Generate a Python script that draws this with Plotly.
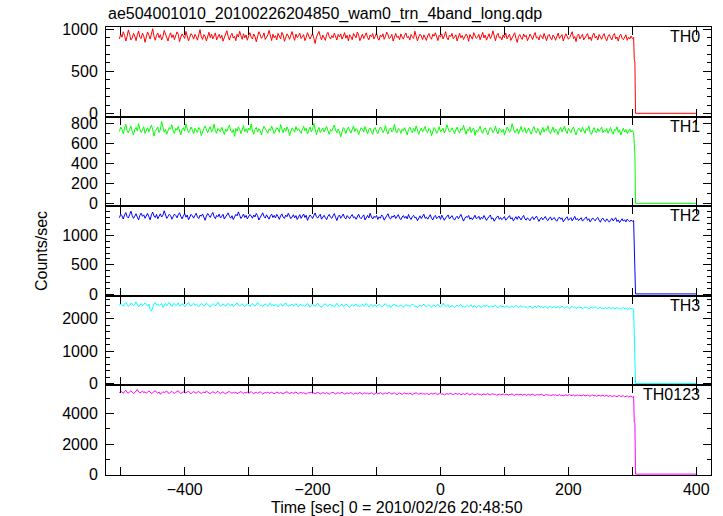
import numpy as np
import plotly.graph_objects as go
from plotly.subplots import make_subplots

# ---------------- data ----------------
title_text = "ae504001010_20100226204850_wam0_trn_4band_long.qdp"
x_title = "Time [sec] 0 = 2010/02/26 20:48:50"
y_title = "Counts/sec"

t_start = -502
t_step = 2
t_tail = [303, 304, 305, 400]

panel_names = ["TH0", "TH1", "TH2", "TH3", "TH0123"]
panel_colors = ["#ff0000", "#00ff00", "#0000ff", "#00ffff", "#ff00ff"]

th0 = [884, 941, 903, 967, 925, 858, 912, 989, 936, 871, 895, 948, 917, 862, 933, 976, 901, 888, 952, 919,
       843, 907, 964, 928, 881, 939, 1003, 914, 867, 925, 952, 896, 934, 870, 909, 983, 947, 890, 858, 921,
       955, 899, 931, 874, 918, 966, 937, 852, 905, 942, 915, 889, 971, 928, 861, 903, 946, 924, 880, 937,
       912, 868, 951, 993, 906, 877, 933, 914, 859, 926, 962, 898, 941, 883, 917, 954, 872, 909, 938, 891,
       927, 856, 902, 945, 980, 911, 869, 924, 950, 893, 915, 862, 938, 905, 973, 921, 878, 944, 896, 930,
       867, 918, 957, 903, 882, 942, 911, 849, 925, 968, 936, 890, 913, 954, 876, 906, 929, 985, 901, 864,
       939, 897, 922, 871, 948, 916, 884, 960, 931, 855, 904, 943, 919, 879, 927, 970, 908, 866, 941, 899,
       920, 951, 887, 910, 934, 863, 898, 957, 925, 881, 912, 946, 893, 829, 906, 939, 972, 915, 873, 928,
       904, 866, 937, 961, 911, 883, 921, 898, 952, 917, 870, 935, 906, 943, 880, 914, 958, 892, 926, 861,
       933, 909, 874, 947, 918, 896, 965, 928, 862, 905, 941, 887, 919, 955, 898, 871, 930, 910, 946, 883,
       915, 952, 890, 868, 929, 906, 944, 878, 912, 963, 931, 885, 903, 937, 857, 921, 948, 899, 916, 874,
       942, 905, 881, 926, 953, 897, 913, 869, 935, 910, 888, 974, 922, 860, 907, 940, 918, 875, 931, 896,
       866, 921, 947, 902, 879, 938, 915, 956, 891, 864, 925, 904, 942, 883, 917, 969, 900, 872, 929, 911,
       948, 887, 906, 932, 859, 914, 950, 897, 923, 876, 908, 941, 918, 855, 936, 902, 880, 957, 913, 890,
       904, 937, 873, 919, 961, 895, 928, 868, 910, 944, 887, 915, 979, 903, 862, 926, 949, 894, 907, 871,
       930, 898, 952, 884, 912, 938, 865, 903, 921, 956, 889, 842, 914, 935, 899, 877, 942, 908, 926, 863,
       897, 940, 912, 876, 925, 959, 893, 906, 870, 931, 917, 884, 948, 901, 862, 920, 937, 895, 873, 929,
       908, 867, 923, 951, 889, 911, 935, 858, 902, 944, 916, 879, 897, 930, 968, 887, 912, 851, 924, 941,
       884, 909, 937, 872, 898, 921, 946, 880, 905, 864, 928, 951, 893, 915, 870, 936, 902, 878, 919, 946,
       889, 862, 913, 934, 896, 871, 925, 948, 883, 906, 857, 920, 939, 891, 874, 911, 932, 866, 903, 881,
       917, 888, 902]
th0_tail = [640, 610, 3, 3]

th1 = [717, 762, 739, 694, 751, 788, 726, 703, 745, 771, 718, 682, 737, 759, 724, 796, 741, 708, 733, 765,
       699, 728, 754, 715, 743, 781, 736, 672, 719, 748, 763, 707, 734, 817, 752, 711, 738, 690, 726, 757,
       741, 784, 722, 698, 747, 731, 768, 713, 685, 739, 756, 721, 794, 744, 706, 729, 762, 735, 695, 750,
       727, 709, 758, 736, 677, 719, 745, 773, 730, 704, 741, 766, 712, 738, 791, 724, 699, 748, 733, 714,
       760, 729, 688, 742, 717, 754, 781, 725, 707, 736, 669, 748, 722, 763, 740, 697, 731, 776, 718, 744,
       706, 751, 733, 794, 721, 690, 739, 758, 712, 745, 727, 682, 736, 769, 748, 715, 701, 743, 728, 772,
       738, 695, 723, 757, 741, 710, 786, 731, 704, 749, 719, 763, 735, 676, 725, 754, 739, 711, 767, 729,
       745, 716, 700, 738, 771, 726, 751, 693, 729, 762, 714, 740, 797, 720, 687, 733, 759, 708, 736, 751,
       712, 744, 768, 725, 690, 737, 719, 752, 781, 731, 705, 743, 716, 664, 729, 757, 742, 698, 734, 762,
       726, 701, 739, 773, 718, 747, 732, 686, 724, 755, 740, 711, 767, 729, 694, 738, 752, 716, 689, 743,
       758, 720, 697, 733, 764, 745, 707, 728, 776, 717, 692, 739, 754, 713, 731, 789, 724, 703, 746, 735,
       699, 741, 723, 756, 711, 684, 737, 762, 728, 705, 747, 719, 773, 734, 690, 726, 751, 714, 739, 768,
       721, 707, 749, 732, 676, 729, 758, 740, 698, 723, 766, 713, 737, 751, 703, 730, 785, 744, 711, 726,
       755, 728, 694, 736, 761, 719, 702, 748, 733, 778, 716, 689, 741, 725, 763, 707, 735, 751, 679, 730,
       712, 746, 769, 722, 699, 738, 754, 715, 685, 731, 757, 740, 708, 726, 772, 719, 694, 749, 736, 711,
       740, 681, 727, 762, 743, 710, 733, 796, 752, 704, 721, 745, 692, 737, 768, 715, 729, 756, 701, 724,
       753, 718, 692, 739, 766, 727, 705, 747, 723, 681, 735, 759, 712, 744, 728, 775, 716, 698, 731, 763,
       709, 742, 725, 687, 733, 758, 714, 736, 771, 721, 696, 749, 730, 707, 741, 764, 718, 683, 727, 752,
       734, 713, 760, 722, 699, 745, 730, 773, 711, 689, 737, 756, 724, 703, 748, 717, 739, 762, 706, 728,
       719, 747, 701, 733, 758, 714, 690, 741, 726, 765, 709, 735, 681, 722, 750, 713, 737, 698, 729, 744,
       712, 731, 706]
th1_tail = [505, 490, 2, 2]

th2 = [1302, 1361, 1334, 1279, 1347, 1388, 1320, 1296, 1355, 1412, 1338, 1290, 1327, 1369, 1311, 1264, 1342, 1379, 1325, 1350,
       1291, 1336, 1374, 1318, 1265, 1349, 1397, 1330, 1304, 1358, 1283, 1326, 1367, 1312, 1345, 1420, 1336, 1289, 1322, 1360,
       1337, 1275, 1318, 1363, 1341, 1299, 1352, 1386, 1322, 1281, 1334, 1370, 1310, 1347, 1266, 1321, 1358, 1333, 1294, 1340,
       1376, 1315, 1288, 1344, 1327, 1365, 1301, 1257, 1329, 1372, 1339, 1306, 1353, 1391, 1320, 1284, 1341, 1318, 1362, 1297,
       1325, 1359, 1278, 1311, 1348, 1383, 1326, 1293, 1335, 1269, 1314, 1357, 1332, 1400, 1341, 1287, 1319, 1364, 1305, 1339,
       1281, 1323, 1356, 1330, 1292, 1347, 1314, 1375, 1336, 1262, 1309, 1343, 1385, 1324, 1295, 1350, 1317, 1276, 1334, 1361,
       1304, 1340, 1297, 1358, 1321, 1273, 1332, 1366, 1310, 1289, 1345, 1318, 1378, 1326, 1284, 1313, 1352, 1299, 1337, 1270,
       1316, 1353, 1290, 1327, 1364, 1305, 1342, 1256, 1312, 1348, 1323, 1287, 1339, 1381, 1318, 1294, 1331, 1359, 1276, 1320,
       1342, 1301, 1268, 1325, 1356, 1310, 1289, 1334, 1371, 1307, 1252, 1318, 1346, 1292, 1329, 1363, 1303, 1280, 1337, 1315,
       1284, 1328, 1355, 1299, 1317, 1274, 1336, 1360, 1306, 1283, 1321, 1349, 1263, 1308, 1340, 1296, 1377, 1313, 1278, 1324,
       1303, 1339, 1271, 1316, 1292, 1348, 1320, 1259, 1307, 1335, 1368, 1298, 1279, 1326, 1310, 1345, 1287, 1314, 1353, 1295,
       1268, 1312, 1337, 1293, 1324, 1281, 1356, 1302, 1271, 1319, 1342, 1297, 1308, 1250, 1301, 1333, 1286, 1323, 1361, 1290,
       1311, 1276, 1327, 1352, 1294, 1262, 1318, 1340, 1284, 1305, 1331, 1273, 1345, 1300, 1257, 1296, 1322, 1348, 1281, 1309,
       1335, 1289, 1260, 1304, 1327, 1282, 1314, 1358, 1297, 1243, 1291, 1320, 1306, 1339, 1275, 1302, 1266, 1317, 1343, 1285,
       1296, 1326, 1270, 1309, 1283, 1338, 1301, 1255, 1293, 1319, 1347, 1277, 1298, 1241, 1288, 1314, 1330, 1274, 1305, 1268,
       1292, 1321, 1258, 1284, 1312, 1336, 1279, 1302, 1247, 1289, 1318, 1273, 1327, 1296, 1262, 1308, 1340, 1281, 1259, 1300,
       1276, 1249, 1293, 1318, 1267, 1301, 1328, 1283, 1239, 1280, 1306, 1265, 1297, 1322, 1271, 1251, 1294, 1313, 1262, 1287,
       1305, 1263, 1241, 1286, 1312, 1274, 1298, 1232, 1269, 1295, 1317, 1257, 1281, 1303, 1246, 1277, 1324, 1266, 1289, 1252,
       1279, 1301, 1243, 1268, 1292, 1315, 1256, 1284, 1230, 1261, 1297, 1273, 1248, 1286, 1306, 1259, 1224, 1275, 1294, 1253,
       1238, 1281, 1262, 1226, 1259, 1290, 1247, 1271, 1302, 1236, 1264, 1218, 1255, 1283, 1242, 1267, 1229, 1276, 1251, 1233,
       1262, 1240, 1255]
th2_tail = [850, 830, 3, 3]

th3 = [2397, 2468, 2421, 2380, 2452, 2496, 2433, 2371, 2410, 2475, 2446, 2392, 2438, 2513, 2425, 2367, 2417, 2459, 2403, 2440,
       2483, 2422, 2386, 2447, 2280, 2226, 2361, 2436, 2488, 2415, 2450, 2398, 2431, 2462, 2344, 2429, 2462, 2396, 2437, 2503,
       2418, 2375, 2444, 2466, 2401, 2427, 2481, 2388, 2413, 2458, 2436, 2364, 2405, 2449, 2493, 2420, 2382, 2431, 2471, 2409,
       2442, 2393, 2369, 2425, 2461, 2434, 2385, 2416, 2478, 2441, 2399, 2352, 2419, 2454, 2428, 2387, 2445, 2506, 2430, 2373,
       2411, 2457, 2402, 2378, 2436, 2469, 2413, 2390, 2448, 2364, 2407, 2439, 2482, 2420, 2381, 2426, 2455, 2397, 2359, 2418,
       2450, 2416, 2371, 2431, 2463, 2404, 2385, 2429, 2499, 2437, 2393, 2412, 2366, 2423, 2457, 2408, 2376, 2441, 2473, 2399,
       2427, 2384, 2446, 2401, 2357, 2415, 2452, 2420, 2377, 2438, 2486, 2410, 2369, 2424, 2402, 2447, 2381, 2414, 2460, 2395,
       2363, 2421, 2443, 2391, 2409, 2378, 2432, 2468, 2405, 2350, 2398, 2435, 2417, 2373, 2426, 2477, 2412, 2386, 2344, 2404,
       2430, 2458, 2396, 2371, 2419, 2445, 2383, 2406, 2362, 2427, 2471, 2400, 2379, 2414, 2439, 2368, 2397, 2452, 2408, 2376,
       2345, 2403, 2428, 2385, 2416, 2449, 2374, 2398, 2361, 2413, 2440, 2382, 2407, 2466, 2393, 2356, 2410, 2434, 2373, 2401,
       2425, 2367, 2392, 2437, 2404, 2351, 2390, 2421, 2462, 2399, 2372, 2411, 2343, 2386, 2418, 2444, 2381, 2405, 2360, 2395,
       2420, 2376, 2349, 2402, 2431, 2389, 2414, 2365, 2397, 2451, 2408, 2370, 2391, 2339, 2383, 2416, 2375, 2403, 2442, 2386,
       2358, 2399, 2423, 2378, 2346, 2394, 2415, 2371, 2406, 2436, 2380, 2353, 2392, 2474, 2410, 2367, 2389, 2421, 2348, 2385,
       2404, 2369, 2337, 2381, 2412, 2376, 2395, 2430, 2362, 2387, 2341, 2379, 2407, 2365, 2393, 2424, 2355, 2382, 2398, 2343,
       2377, 2409, 2360, 2335, 2384, 2401, 2366, 2419, 2380, 2348, 2371, 2396, 2356, 2389, 2413, 2362, 2333, 2378, 2400, 2352,
       2386, 2345, 2370, 2397, 2358, 2324, 2366, 2391, 2349, 2375, 2407, 2361, 2338, 2372, 2395, 2351, 2383, 2342, 2368, 2329,
       2360, 2389, 2341, 2318, 2365, 2382, 2336, 2357, 2399, 2347, 2370, 2327, 2353, 2379, 2339, 2312, 2359, 2384, 2333, 2350,
       2376, 2326, 2349, 2371, 2317, 2343, 2388, 2352, 2320, 2346, 2368, 2331, 2306, 2355, 2373, 2335, 2358, 2311, 2340, 2364,
       2324, 2350, 2301, 2337, 2362, 2329, 2345, 2296, 2333, 2357, 2316, 2342, 2369, 2321, 2294, 2338, 2355, 2310, 2331, 2289,
       2336, 2305, 2327, 2351, 2298, 2319, 2344, 2286, 2314, 2339, 2302, 2325, 2281, 2317, 2343, 2296, 2320, 2277, 2309, 2334,
       2292, 2315, 2288]
th3_tail = [1460, 1440, 5, 5]

th0123 = [5398, 5512, 5446, 5361, 5487, 5559, 5420, 5375, 5469, 5530, 5438, 5352, 5411, 5497, 5620, 5456, 5389, 5442, 5521, 5403,
          5467, 5373, 5425, 5508, 5451, 5338, 5416, 5483, 5541, 5432, 5369, 5450, 5292, 5380, 5473, 5409, 5437, 5515, 5396, 5358,
          5444, 5492, 5401, 5366, 5428, 5474, 5533, 5415, 5349, 5407, 5461, 5420, 5384, 5452, 5503, 5391, 5340, 5419, 5470, 5426,
          5372, 5435, 5486, 5404, 5357, 5413, 5448, 5391, 5525, 5431, 5376, 5342, 5409, 5465, 5420, 5371, 5437, 5498, 5402, 5355,
          5418, 5462, 5380, 5333, 5401, 5444, 5492, 5415, 5368, 5426, 5385, 5451, 5330, 5393, 5438, 5477, 5404, 5362, 5419, 5388,
          5445, 5372, 5410, 5483, 5397, 5346, 5388, 5432, 5365, 5412, 5467, 5394, 5322, 5378, 5421, 5391, 5450, 5360, 5401, 5436,
          5379, 5340, 5396, 5442, 5407, 5356, 5419, 5380, 5325, 5389, 5428, 5472, 5398, 5350, 5384, 5413, 5361, 5402, 5447, 5374,
          5331, 5392, 5421, 5367, 5408, 5349, 5311, 5378, 5415, 5385, 5440, 5357, 5396, 5337, 5372, 5423, 5390, 5318, 5364, 5406,
          5381, 5344, 5410, 5361, 5302, 5369, 5398, 5437, 5355, 5320, 5377, 5404, 5346, 5388, 5426, 5365, 5309, 5352, 5393, 5340,
          5376, 5411, 5348, 5295, 5359, 5390, 5333, 5372, 5416, 5351, 5304, 5368, 5397, 5338, 5379, 5320, 5361, 5402, 5344, 5286,
          5352, 5383, 5326, 5364, 5407, 5341, 5299, 5356, 5388, 5331, 5370, 5425, 5349, 5312, 5360, 5391, 5328, 5277, 5346, 5379,
          5337, 5295, 5358, 5386, 5322, 5350, 5309, 5371, 5334, 5268, 5329, 5362, 5397, 5340, 5301, 5348, 5375, 5316, 5343, 5290,
          5354, 5318, 5279, 5336, 5368, 5306, 5345, 5381, 5321, 5286, 5339, 5363, 5302, 5330, 5259, 5317, 5352, 5294, 5327, 5366,
          5309, 5275, 5331, 5357, 5298, 5320, 5346, 5269, 5312, 5340, 5283, 5326, 5375, 5304, 5262, 5315, 5342, 5290, 5251, 5308,
          5333, 5286, 5314, 5249, 5297, 5328, 5271, 5303, 5341, 5280, 5258, 5306, 5335, 5277, 5300, 5236, 5289, 5319, 5265, 5294,
          5320, 5261, 5284, 5311, 5245, 5276, 5305, 5327, 5268, 5232, 5287, 5312, 5255, 5279, 5301, 5243, 5270, 5296, 5224, 5263,
          5291, 5240, 5273, 5302, 5253, 5226, 5265, 5289, 5238, 5281, 5307, 5247, 5213, 5259, 5286, 5234, 5262, 5208, 5250, 5277,
          5236, 5264, 5203, 5248, 5279, 5221, 5245, 5193, 5239, 5266, 5219, 5251, 5284, 5210, 5232, 5258, 5186, 5227, 5253, 5205,
          5241, 5196, 5222, 5257, 5180, 5216, 5244, 5198, 5171, 5229, 5254, 5192, 5218, 5163, 5206, 5237, 5178, 5213, 5240, 5169,
          5199, 5228, 5157, 5190, 5219, 5146, 5184, 5211, 5162, 5137, 5193, 5222, 5150, 5176, 5204, 5133, 5168, 5197, 5121, 5159,
          5186, 5112, 5148]
th0123_tail = [3450, 3400, 10, 10]

series_values = [th0, th1, th2, th3, th0123]
series_tails = [th0_tail, th1_tail, th2_tail, th3_tail, th0123_tail]

x_range = [-523, 423]
x_tickvals = [-500, -400, -300, -200, -100, 0, 100, 200, 300, 400]
x_ticktext = ["", "\u2212400", "", "\u2212200", "", "0", "", "200", "", "400"]

y_ranges = [[-36, 1024], [-26, 866], [-29, 1497], [-52, 2700], [-47, 5887]]
y_tickvals = [[0, 500, 1000], [0, 200, 400, 600, 800], [0, 500, 1000], [0, 1000, 2000], [0, 2000, 4000]]
y_minor = [100, 100, 100, 200, 1000]

# ---------------- figure ----------------
W, H = 723, 516
ML, MR, MT, MB = 106, 12, 27, 41

fig = make_subplots(rows=5, cols=1, shared_xaxes=True, vertical_spacing=0)

for i, (vals, tail, col) in enumerate(zip(series_values, series_tails, panel_colors)):
    t = list(t_start + t_step * np.arange(len(vals))) + t_tail
    y = list(vals) + list(tail)
    fig.add_trace(go.Scatter(x=t, y=y, mode="lines", line=dict(color=col, width=1),
                             showlegend=False, hoverinfo="skip"), row=i + 1, col=1)

font_family = "Liberation Sans, Arial, Helvetica, sans-serif"

for i in range(5):
    r = i + 1
    fig.update_xaxes(range=x_range, tickmode="array", tickvals=x_tickvals, ticktext=x_ticktext,
                     ticks="inside", ticklen=8, tickwidth=1, tickcolor="black",
                     showline=True, linecolor="black", linewidth=1, mirror="ticks",
                     showgrid=False, zeroline=False, row=r, col=1)
    fig.update_yaxes(range=y_ranges[i], tickmode="array", tickvals=y_tickvals[i],
                     ticks="inside", ticklen=8, tickwidth=1, tickcolor="black",
                     minor=dict(dtick=y_minor[i], tick0=0, ticks="inside", ticklen=4, tickcolor="black"),
                     showline=True, linecolor="black", linewidth=1, mirror="ticks",
                     showgrid=False, zeroline=False, ticklabelstandoff=4, row=r, col=1)

fig.update_xaxes(showticklabels=True, row=5, col=1)

pw = W - ML - MR
ph = H - MT - MB

def px_x(x):
    return (x - ML) / pw

def px_y(y):
    return 1 - (y - MT) / ph

annotations = []
for i, name in enumerate(panel_names):
    top = 1 - i * 0.2
    annotations.append(dict(text=name, xref="paper", yref="paper", x=px_x(702), y=top,
                            xanchor="right", yanchor="top", yshift=1, showarrow=False,
                            font=dict(size=16, color="black", family=font_family)))

annotations.append(dict(text=title_text, xref="paper", yref="paper", x=px_x(106), y=px_y(14),
                        xanchor="left", yanchor="middle", showarrow=False,
                        font=dict(size=16, color="black", family=font_family)))
annotations.append(dict(text=x_title, xref="paper", yref="paper", x=px_x(397), y=px_y(507),
                        xanchor="center", yanchor="middle", showarrow=False,
                        font=dict(size=16, color="black", family=font_family)))
annotations.append(dict(text=y_title, xref="paper", yref="paper", x=px_x(41), y=px_y(251),
                        xanchor="center", yanchor="middle", textangle=-90, showarrow=False,
                        font=dict(size=16, color="black", family=font_family)))

fig.update_layout(width=W, height=H, margin=dict(l=ML, r=MR, t=MT, b=MB),
                  paper_bgcolor="white", plot_bgcolor="white",
                  font=dict(family=font_family, size=16, color="black"),
                  annotations=annotations, showlegend=False)

fig.write_html("out.html", config={"displayModeBar": False})

# remove the default page margin so the figure sits at the window's top-left corner
with open("out.html", "r", encoding="utf-8") as f:
    html = f.read()
html = html.replace("<head>", "<head><style>html,body{margin:0;padding:0;overflow:hidden;}</style>", 1)
with open("out.html", "w", encoding="utf-8") as f:
    f.write(html)
